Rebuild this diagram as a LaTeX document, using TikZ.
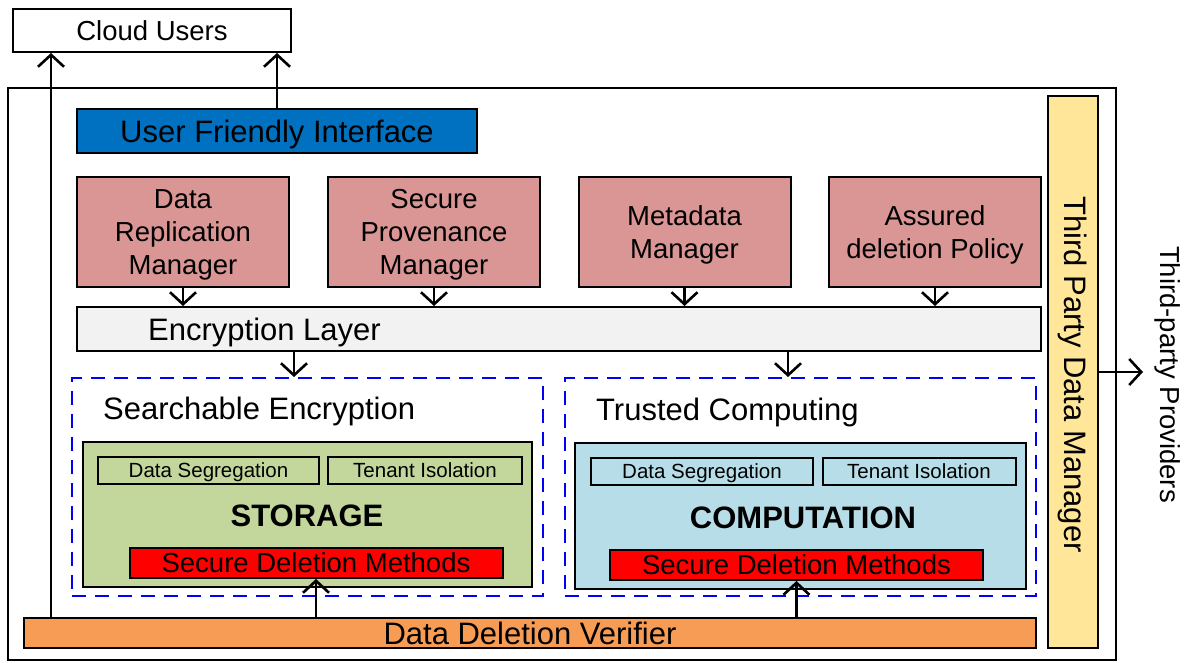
\documentclass[tikz,border=0pt]{standalone}
\usepackage{fontspec}
\setmainfont{Liberation Sans}
\usetikzlibrary{arrows.meta}
\definecolor{ufi_blue}{RGB}{0, 112, 192}
\definecolor{mgr_red}{RGB}{217, 150, 148}
\definecolor{enc_grey}{RGB}{242, 242, 242}
\definecolor{sto_green}{RGB}{195, 214, 155}
\definecolor{comp_blue}{RGB}{183, 222, 232}
\definecolor{ddv_orange}{RGB}{246, 156, 84}
\definecolor{tp_yellow}{RGB}{255, 230, 153}
\newcommand{\fbig}{\fontsize{31}{37}\selectfont}
\newcommand{\fmid}{\fontsize{27.5}{33}\selectfont}
\newcommand{\fsmall}{\fontsize{20.5}{24}\selectfont}
\tikzstyle{box}=[rectangle,draw=black,line width=2pt,inner sep=0pt]
\tikzstyle{mgr}=[box,fill=mgr_red,minimum width=212pt,minimum height=110pt,
  align=center,font=\fmid,text depth=0pt]
\tikzstyle{zone}=[rectangle,draw=blue,line width=2pt,dash pattern=on 14pt off 9pt,
  minimum width=471pt,minimum height=218pt]
\tikzstyle{subbox}=[box,minimum height=27pt,font=\fsmall,text height=14.8pt,text depth=0pt]
\tikzstyle{sdm}=[box,fill=red,minimum width=373pt,minimum height=30pt,font=\fmid,
  text height=19.7pt,text depth=0pt]
\tikzstyle{bigtxt}=[inner sep=0pt,font=\fbig,text height=22.2pt,text depth=0pt]
\tikzstyle{midtxt}=[inner sep=0pt,font=\fmid,text height=19.7pt,text depth=0pt]
\tikzstyle{arr}=[line width=2.2pt,-{Straight Barb[length=12pt,width=26pt,line width=2.6pt]}]
\tikzstyle{none}=[]
\begin{document}
\begin{tikzpicture}[x=1pt, y=-1pt]
            \useasboundingbox (0, 0) rectangle (1192, 662);
            \node [style=box, minimum width=1108pt, minimum height=572pt] (frame) at (562, 374) {};
            \node [style=box, minimum width=278pt, minimum height=43pt, font=\fmid, text height=19.7pt, text depth=0pt] (users) at (152, 30.5) {Cloud Users};
            \node [style=box, fill=ufi_blue, minimum width=400pt, minimum height=44pt, font=\fbig, text height=22.2pt, text depth=0pt] (ufi) at (277, 131) {User Friendly Interface};
            \node [style=mgr] (drm) at (183, 232) {Data\\Replication\\Manager};
            \node [style=mgr] (spm) at (434, 232) {Secure\\Provenance\\Manager};
            \node [style=mgr] (mdm) at (684.5, 232) {Metadata\\Manager};
            \node [style=mgr] (adp) at (935, 232) {Assured\\deletion Policy};
            \node [style=box, fill=enc_grey, minimum width=964pt, minimum height=44pt] (enc) at (559, 329) {};
            \node [style=bigtxt, anchor=west] (enctxt) at (148, 329) {Encryption Layer};
            \node [style=zone] (se) at (307.5, 487) {};
            \node [style=zone] (tc) at (800.5, 487) {};
            \node [style=bigtxt, anchor=west] (setxt) at (103, 408) {Searchable Encryption};
            \node [style=bigtxt, anchor=west] (tctxt) at (596, 409) {Trusted Computing};
            \node [style=box, fill=sto_green, minimum width=449pt, minimum height=145pt] (sto) at (307.5, 514.5) {};
            \node [style=box, fill=comp_blue, minimum width=451pt, minimum height=146pt] (comp) at (800.5, 516) {};
            \node [style=subbox, minimum width=221pt] (dsA) at (208.5, 470) {Data Segregation};
            \node [style=subbox, minimum width=194pt] (tiA) at (425, 470) {Tenant Isolation};
            \node [style=subbox, minimum width=222pt] (dsB) at (702, 471.5) {Data Segregation};
            \node [style=subbox, minimum width=193pt] (tiB) at (919, 471.5) {Tenant Isolation};
            \node [style=bigtxt, font=\fbig\bfseries] (stotxt) at (307, 515) {STORAGE};
            \node [style=bigtxt, font=\fbig\bfseries] (comptxt) at (803, 517) {COMPUTATION};
            \node [style=sdm] (sdmA) at (316, 563) {Secure Deletion Methods};
            \node [style=sdm] (sdmB) at (796.5, 565) {Secure Deletion Methods};
            \node [style=box, fill=ddv_orange, minimum width=1012pt, minimum height=30pt, font=\fbig, text height=22.2pt, text depth=0pt] (ddv) at (530, 633) {Data Deletion Verifier};
            \node [style=box, fill=tp_yellow, minimum width=50pt, minimum height=552pt] (tpdm) at (1073, 372) {};
            \node [style=bigtxt, rotate=-90] (tpdmtxt) at (1076, 374.5) {Third Party Data Manager};
            \node [style=midtxt, rotate=-90] (prov) at (1170, 374.5) {Third-party Providers};
            \coordinate (lft) at (51, 0);
            \coordinate (encA) at (294, 0);
            \coordinate (encB) at (788, 0);
            \coordinate (tip) at (1143, 372);
            \draw [style=arr] (ddv.north -| lft) to (users.south -| lft);
            \draw [style=arr] (ufi.north) to (ufi.north |- users.south);
            \draw [style=arr] (drm.south) to (drm.south |- enc.north);
            \draw [style=arr] (spm.south) to (spm.south |- enc.north);
            \draw [style=arr] (mdm.south) to (mdm.south |- enc.north);
            \draw [style=arr] (adp.south) to (adp.south |- enc.north);
            \draw [style=arr] (enc.south -| encA) to (se.north -| encA);
            \draw [style=arr] (enc.south -| encB) to (tc.north -| encB);
            \draw [style=arr] (ddv.north -| sdmA) to (sdmA.south);
            \draw [style=arr] (ddv.north -| sdmB) to (sdmB.south);
            \draw [style=arr] (tpdm.east) to (tip);
\end{tikzpicture}
\end{document}
